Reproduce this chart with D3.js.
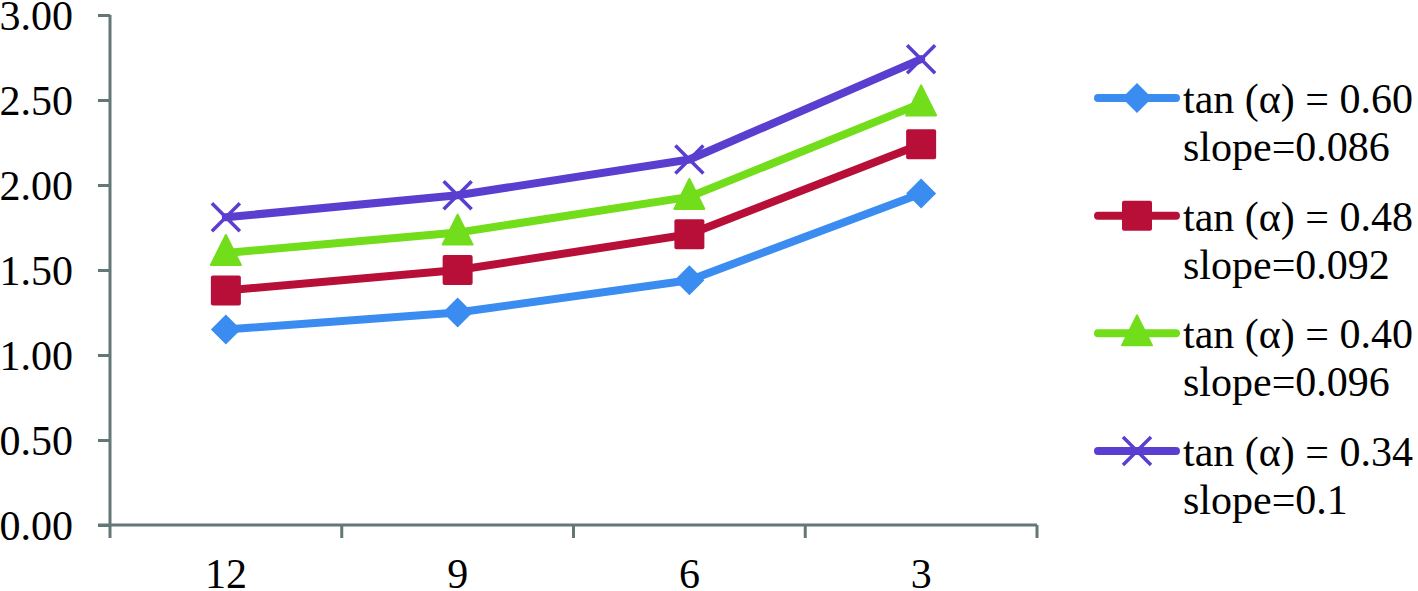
<!DOCTYPE html>
<html>
<head>
<meta charset="utf-8">
<script src="https://cdn.jsdelivr.net/npm/d3@7"></script>
<style>
  html, body { margin: 0; padding: 0; background: #fff; }
  svg { display: block; }
</style>
</head>
<body>
<svg id="chart" width="1418" height="591"></svg>
<script>
// data
const categories = ["12", "9", "6", "3"];
const seriesNames = ["tan (α) = 0.60", "tan (α) = 0.48", "tan (α) = 0.40", "tan (α) = 0.34"];
const seriesSlopes = ["slope=0.086", "slope=0.092", "slope=0.096", "slope=0.1"];
const valsA = [1.15, 1.25, 1.44, 1.95];
const valsB = [1.38, 1.50, 1.71, 2.24];
const valsC = [1.60, 1.72, 1.93, 2.48];
const valsD = [1.81, 1.94, 2.15, 2.74];
const yTicks = [0, 0.5, 1, 1.5, 2, 2.5, 3];

const colors = ["#3a8cf0", "#b80f38", "#72dd1a", "#5a3ed0"];
const shapes = ["diamond", "square", "triangle", "x"];
const series = [valsA, valsB, valsC, valsD];

const svg = d3.select("#chart");
const axisColor = "#647777";
const font = "Liberation Serif";
const fs = 42;

const x = d3.scaleBand().domain(categories).range([110, 1037]);
const y = d3.scaleLinear().domain([0, 3]).range([525, 15]);

// y axis
const yAxis = svg.append("g")
  .attr("transform", "translate(110,0)")
  .attr("font-family", font)
  .call(d3.axisLeft(y).tickValues(yTicks).tickFormat(d3.format(".2f")).tickSize(12).tickPadding(25));
yAxis.select(".domain").attr("stroke", axisColor).attr("stroke-width", 3).attr("d", "M0,15V525");
yAxis.selectAll(".tick line").attr("stroke", axisColor).attr("stroke-width", 3);
yAxis.selectAll(".tick text").attr("font-family", font).attr("font-size", fs).attr("fill", "#000").attr("dy", "0.34em");

// x axis
const xAxis = svg.append("g")
  .attr("transform", "translate(0,525)")
  .attr("font-family", font)
  .call(d3.axisBottom(x).tickSize(0));
xAxis.select(".domain").attr("stroke", axisColor).attr("stroke-width", 3).attr("d", "M98,0H1037");
xAxis.selectAll(".tick text").attr("font-family", font).attr("font-size", fs).attr("fill", "#000")
  .attr("y", 63).attr("dy", "0");
// boundary ticks between categories
const bounds = categories.map(c => x(c)).concat([x.range()[1]]);
xAxis.selectAll(".bound").data(bounds).join("line")
  .attr("x1", d => d).attr("x2", d => d)
  .attr("y1", 0).attr("y2", 13)
  .attr("stroke", axisColor).attr("stroke-width", 3);

const cx = c => x(c) + x.bandwidth() / 2;

function marker(g, shape, color, px, py) {
  if (shape === "diamond") {
    g.append("path").attr("d", `M${px},${py - 15}L${px + 15},${py}L${px},${py + 15}L${px - 15},${py}Z`)
      .attr("fill", color);
  } else if (shape === "square") {
    g.append("rect").attr("x", px - 15).attr("y", py - 15).attr("width", 30).attr("height", 30)
      .attr("rx", 2).attr("fill", color);
  } else if (shape === "triangle") {
    g.append("path").attr("d", `M${px},${py - 18}L${px + 15},${py + 12}L${px - 15},${py + 12}Z`)
      .attr("fill", color).attr("stroke", color).attr("stroke-width", 2).attr("stroke-linejoin", "round");
  } else {
    g.append("path").attr("d", `M${px - 14},${py - 14}L${px + 14},${py + 14}M${px + 14},${py - 14}L${px - 14},${py + 14}`)
      .attr("stroke", color).attr("stroke-width", 3.5).attr("fill", "none");
  }
}

const line = d3.line().x((d, i) => cx(categories[i])).y(d => y(d));

series.forEach((vals, s) => {
  const g = svg.append("g");
  g.append("path").datum(vals).attr("d", line)
    .attr("fill", "none").attr("stroke", colors[s]).attr("stroke-width", 8)
    .attr("stroke-linejoin", "round").attr("stroke-linecap", "round");
  vals.forEach((v, i) => marker(g, shapes[s], colors[s], cx(categories[i]), y(v)));
});

// legend
const legY = d3.scalePoint().domain(d3.range(4)).range([98, 451]);
series.forEach((vals, s) => {
  const g = svg.append("g").attr("font-family", font).attr("font-size", fs).attr("fill", "#000");
  const ly = legY(s);
  g.append("line").attr("x1", 1098).attr("x2", 1176).attr("y1", ly).attr("y2", ly)
    .attr("stroke", colors[s]).attr("stroke-width", 8).attr("stroke-linecap", "round");
  marker(g, shapes[s], colors[s], 1137, ly);
  g.append("text").attr("x", 1183).attr("y", ly + 15).text(seriesNames[s]);
  g.append("text").attr("x", 1183).attr("y", ly + 63).text(seriesSlopes[s]);
});
</script>
</body>
</html>
